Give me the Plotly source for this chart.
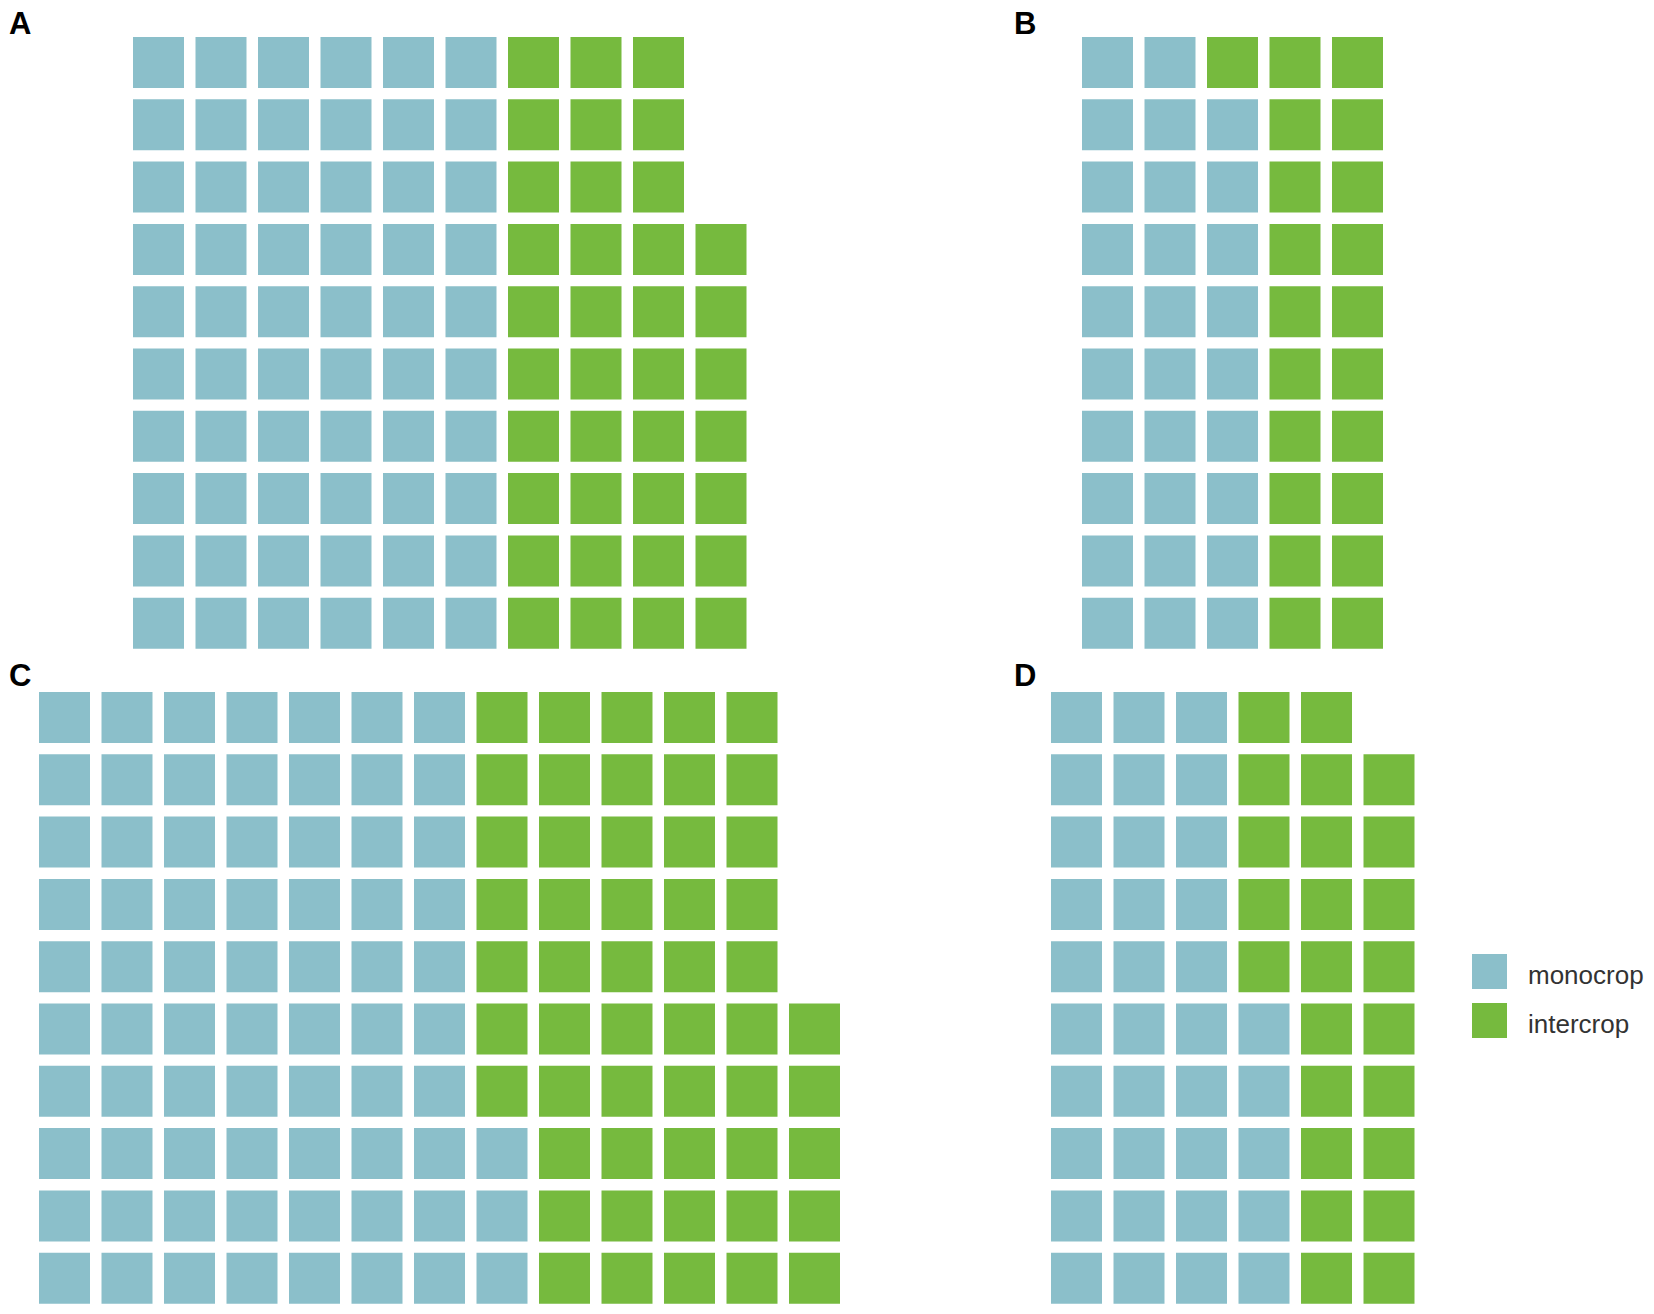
import math
import plotly.graph_objects as go

# waffle data: one square per unit, filled column by column from the bottom
panels = ["A", "B", "C", "D"]
categories = ["monocrop", "intercrop"]
monocrop = [60, 29, 73, 35]
intercrop = [37, 21, 52, 24]
colors = ["#8bbfca", "#76ba3e"]

PAGE_W, PAGE_H = 1654, 1314
OFF = 8                       # default body margin of the html page
W, H = PAGE_W - OFF, PAGE_H - OFF
ROWS = 10
PX, PY = 62.5, 62.3   # cell pitch in px
SQ = 51               # square side in px

# top-left pixel (page coords) of the first square in every panel
origin = {"A": (133, 37), "B": (1082, 37), "C": (39, 692), "D": (1051, 692)}
# left edge / cap-bottom of the panel letters
label_pos = {"A": (7, 31), "B": (1014, 31), "C": (7, 683), "D": (1014, 683)}


def px_x(p):
    return (p - OFF) / W


def px_y(p):
    return 1 - (p - OFF) / H


fig = go.Figure()
layout = {}
annotations = []

for k, name in enumerate(panels):
    counts = [monocrop[k], intercrop[k]]
    ncols = math.ceil(sum(counts) / ROWS)
    n = k + 1
    ax = "" if n == 1 else str(n)

    start = 0
    for cat, cnt, col in zip(categories, counts, colors):
        idx = range(start, start + cnt)
        fig.add_trace(go.Scatter(
            x=[i // ROWS + 1 for i in idx],
            y=[i % ROWS + 1 for i in idx],
            mode="markers",
            marker=dict(symbol="square", size=SQ, color=col, line=dict(width=0)),
            name=cat, showlegend=False, hoverinfo="name",
            xaxis="x" + ax, yaxis="y" + ax,
        ))
        start += cnt

    x0, y0 = origin[name]
    left = x0 - (PX - SQ) / 2
    top = y0 - (PY - SQ) / 2
    layout["xaxis" + ax] = dict(
        domain=[px_x(left), px_x(left + ncols * PX)], range=[0.5, ncols + 0.5],
        visible=False, fixedrange=True, anchor="y" + ax)
    layout["yaxis" + ax] = dict(
        domain=[px_y(top + ROWS * PY), px_y(top)], range=[0.5, ROWS + 0.5],
        visible=False, fixedrange=True, anchor="x" + ax)

    lx, ly = label_pos[name]
    # keep the text box inside the page (top row of letters sits near the edge)
    yb = min(px_y(ly + 11), 1.0)
    annotations.append(dict(
        text="<b>%s</b>" % name, xref="paper", yref="paper",
        x=px_x(max(lx - 1, OFF)), y=yb,
        xanchor="left", yanchor="top" if yb == 1.0 else "bottom",
        borderpad=0, showarrow=False,
        font=dict(size=31, color="black", family="Liberation Sans")))

# legend drawn as its own small axis so the keys can be large squares
fig.add_trace(go.Scatter(
    x=[0, 0], y=[1, 0], mode="markers",
    marker=dict(symbol="square", size=35, color=colors, line=dict(width=0)),
    showlegend=False, hoverinfo="skip", xaxis="x5", yaxis="y5"))
layout["xaxis5"] = dict(domain=[px_x(1472), px_x(1507)], range=[-0.5, 0.5],
                        visible=False, fixedrange=True, anchor="y5")
layout["yaxis5"] = dict(domain=[px_y(1045), px_y(947)], range=[-0.5, 1.5],
                        visible=False, fixedrange=True, anchor="x5")
for yv, cat in zip([1, 0], categories):
    annotations.append(dict(
        text=cat, xref="x5", yref="y5", x=0, y=yv, xanchor="left", yanchor="middle",
        xshift=36, yshift=-3, showarrow=False,
        font=dict(size=26, color="#333333", family="Liberation Sans")))

fig.update_layout(
    width=W, height=H, margin=dict(l=0, r=0, t=0, b=0),
    paper_bgcolor="white", plot_bgcolor="white",
    annotations=annotations, **layout)

fig.write_html("out.html")
